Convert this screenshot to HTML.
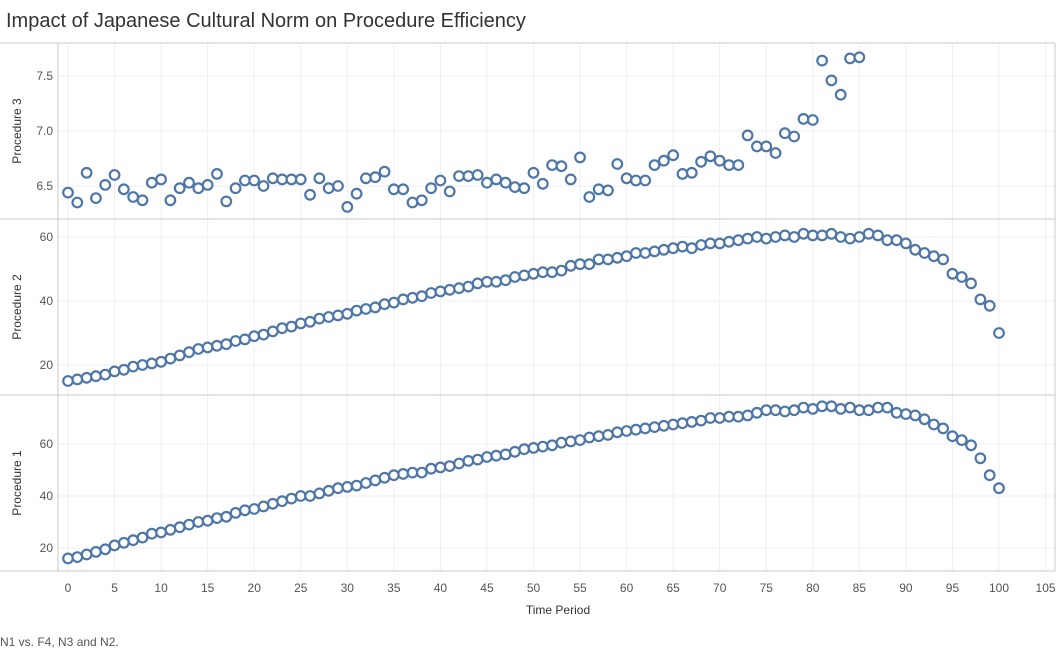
<!DOCTYPE html>
<html><head><meta charset="utf-8"><style>
body{margin:0;background:#fff;font-family:"Liberation Sans",sans-serif;}
svg text{font-family:"Liberation Sans",sans-serif;}
</style></head><body>
<svg id="c" width="1057" height="652" xmlns="http://www.w3.org/2000/svg">
<text x="6" y="27" font-size="20" fill="#333">Impact of Japanese Cultural Norm on Procedure Efficiency</text>
<text x="0" y="646" font-size="12" fill="#555">N1 vs. F4, N3 and N2.</text>
<text x="558" y="614" font-size="12" fill="#333" text-anchor="middle">Time Period</text>
</svg>
<script>
const xTicks=[0,5,10,15,20,25,30,35,40,45,50,55,60,65,70,75,80,85,90,95,100,105];
const p3Ticks=[6.5,7.0,7.5];
const p2Ticks=[20,40,60];
const p1Ticks=[20,40,60];
const p3Values=[6.44,6.35,6.62,6.39,6.51,6.60,6.47,6.40,6.37,6.53,6.56,6.37,6.48,6.53,6.48,6.51,6.61,6.36,6.48,6.55,6.55,6.50,6.57,6.56,6.56,6.56,6.42,6.57,6.48,6.50,6.31,6.43,6.57,6.58,6.63,6.47,6.47,6.35,6.37,6.48,6.55,6.45,6.59,6.59,6.60,6.53,6.56,6.53,6.49,6.48,6.62,6.52,6.69,6.68,6.56,6.76,6.40,6.47,6.46,6.70,6.57,6.55,6.55,6.69,6.73,6.78,6.61,6.62,6.72,6.77,6.73,6.69,6.69,6.96,6.86,6.86,6.80,6.98,6.95,7.11,7.10,7.64,7.46,7.33,7.66,7.67];
const p2Values=[15,15.5,16,16.5,17,18,18.5,19.5,20,20.5,21,22,23,24,25,25.5,26,26.5,27.5,28,29,29.5,30.5,31.5,32,33,33.5,34.5,35,35.5,36,37,37.5,38,39,39.5,40.5,41,41.5,42.5,43,43.5,44,44.5,45.5,46,46,46.5,47.5,48,48.5,49,49,49.5,51,51.5,51.5,53,53,53.5,54,55,55,55.5,56,56.5,57,56.5,57.5,58,58,58.5,59,59.5,60,59.5,60,60.5,60,61,60.5,60.5,61,60,59.5,60,61,60.5,59,59,58,56,55,54,53,48.5,47.5,45.5,40.5,38.5,30];
const p1Values=[16,16.5,17.5,18.5,19.5,21,22,23,24,25.5,26,27,28,29,30,30.5,31.5,32,33.5,34.5,35,36,37,38,39,40,40,41,42,43,43.5,44,45,46,47,48,48.5,49,49,50.5,51,51.5,52.5,53.5,54,55,55.5,56,57,58,58.5,59,59.5,60.5,61,61.5,62.5,63,63.5,64.5,65,65.5,66,66.5,67,67.5,68,68.5,69,70,70,70.5,70.5,71,72,73,73,72.5,73,74,73.5,74.5,74.5,73.5,74,73,73,74,74,72,71.5,71,69.5,67.5,66,63,61.5,59.5,54.5,48,43];

const svg=document.getElementById('c');
const NS='http://www.w3.org/2000/svg';
function mk(t,a){const e=document.createElementNS(NS,t);for(const k in a)e.setAttribute(k,a[k]);svg.appendChild(e);return e;}
const x=v=>68+v*9.31;
const L=58,R=1055;
const panels=[
 {name:'procedure-3',label:'Procedure 3',top:43,bot:219,vals:p3Values,ticks:p3Ticks,y:v=>186-(v-6.5)*110,fmt:v=>v.toFixed(1)},
 {name:'procedure-2',label:'Procedure 2',top:219,bot:395,vals:p2Values,ticks:p2Ticks,y:v=>365-(v-20)*3.2,fmt:v=>String(v)},
 {name:'procedure-1',label:'Procedure 1',top:395,bot:571,vals:p1Values,ticks:p1Ticks,y:v=>548-(v-20)*2.6,fmt:v=>String(v)}
];
// vertical grid
xTicks.forEach(t=>{
 const g=mk('line',{x1:x(t),x2:x(t),y1:43,y2:571,stroke:'#efefef','stroke-width':1});
 
 
 const tl=mk('text',{x:x(t),y:592,'font-size':12,fill:'#555','text-anchor':'middle'});
 tl.textContent=t;
 
 
});
panels.forEach(p=>{
 p.ticks.forEach(t=>{
  const g=mk('line',{x1:L,x2:R,y1:p.y(t),y2:p.y(t),stroke:'#efefef','stroke-width':1});
  
  
  const tl=mk('text',{x:53,y:p.y(t)+4,'font-size':12,fill:'#555','text-anchor':'end'});
  tl.textContent=p.fmt(t);
  
  
 });
 const lb=mk('text',{x:0,y:0,'font-size':12,fill:'#333','text-anchor':'middle',transform:`translate(21,${(p.top+p.bot)/2}) rotate(-90)`});
 lb.textContent=p.label;
 
 
});
// frame lines
[43,219,395,571].forEach(yy=>{
 const l=mk('line',{x1:0,x2:R,y1:yy,y2:yy,stroke:'#c8c8c8','stroke-width':1});
 
 
});
const vl=mk('line',{x1:L,x2:L,y1:43,y2:571,stroke:'#c8c8c8','stroke-width':1});


const rl=mk('line',{x1:R,x2:R,y1:43,y2:571,stroke:'#c8c8c8','stroke-width':1});


panels.forEach(p=>{
 p.vals.forEach((v,i)=>{
  const c=mk('circle',{cx:x(i),cy:p.y(v),r:4.8,fill:'#fff',stroke:'#4e76a6','stroke-width':2.2});
  
  
 });
});
</script>
</body></html>
